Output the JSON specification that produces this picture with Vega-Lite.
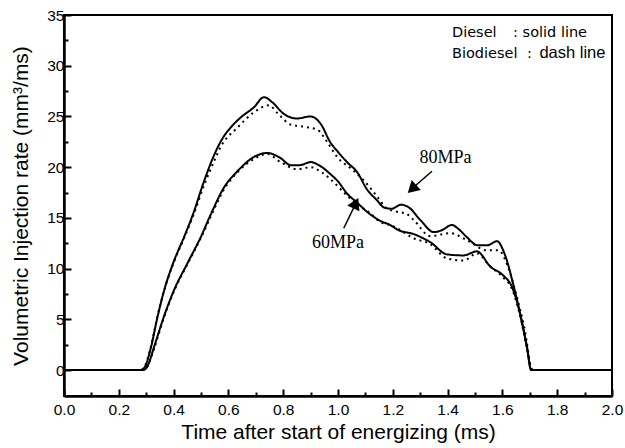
{
  "$schema": "https://vega.github.io/schema/vega-lite/v6.json",
  "width": 548,
  "height": 381,
  "autosize": {"type": "none"},
  "padding": {"left": 64, "top": 15, "right": 13, "bottom": 52},
  "background": "white",
  "config": {
    "view": {"stroke": "black", "strokeWidth": 2},
    "font": "Liberation Sans"
  },
  "datasets": {
    "curves": [
      {"fuel": "Diesel", "p": "80MPa", "t": 0, "q": 0},
      {"fuel": "Diesel", "p": "80MPa", "t": 0.28, "q": 0},
      {"fuel": "Diesel", "p": "80MPa", "t": 0.295, "q": 0.3},
      {"fuel": "Diesel", "p": "80MPa", "t": 0.317, "q": 2.2},
      {"fuel": "Diesel", "p": "80MPa", "t": 0.341, "q": 5.2},
      {"fuel": "Diesel", "p": "80MPa", "t": 0.365, "q": 7.8},
      {"fuel": "Diesel", "p": "80MPa", "t": 0.402, "q": 10.8},
      {"fuel": "Diesel", "p": "80MPa", "t": 0.438, "q": 13.1},
      {"fuel": "Diesel", "p": "80MPa", "t": 0.47, "q": 15.3},
      {"fuel": "Diesel", "p": "80MPa", "t": 0.511, "q": 18.6},
      {"fuel": "Diesel", "p": "80MPa", "t": 0.548, "q": 21.2},
      {"fuel": "Diesel", "p": "80MPa", "t": 0.58, "q": 22.9},
      {"fuel": "Diesel", "p": "80MPa", "t": 0.608, "q": 23.9},
      {"fuel": "Diesel", "p": "80MPa", "t": 0.645, "q": 24.9},
      {"fuel": "Diesel", "p": "80MPa", "t": 0.693, "q": 25.9},
      {"fuel": "Diesel", "p": "80MPa", "t": 0.73, "q": 26.9},
      {"fuel": "Diesel", "p": "80MPa", "t": 0.76, "q": 26.4},
      {"fuel": "Diesel", "p": "80MPa", "t": 0.8, "q": 25.3},
      {"fuel": "Diesel", "p": "80MPa", "t": 0.85, "q": 24.8},
      {"fuel": "Diesel", "p": "80MPa", "t": 0.9, "q": 25.0},
      {"fuel": "Diesel", "p": "80MPa", "t": 0.936, "q": 24.3},
      {"fuel": "Diesel", "p": "80MPa", "t": 0.973, "q": 22.4},
      {"fuel": "Diesel", "p": "80MPa", "t": 1.0, "q": 21.5},
      {"fuel": "Diesel", "p": "80MPa", "t": 1.033, "q": 20.5},
      {"fuel": "Diesel", "p": "80MPa", "t": 1.07, "q": 19.5},
      {"fuel": "Diesel", "p": "80MPa", "t": 1.106, "q": 17.8},
      {"fuel": "Diesel", "p": "80MPa", "t": 1.14, "q": 16.8},
      {"fuel": "Diesel", "p": "80MPa", "t": 1.17, "q": 16.0},
      {"fuel": "Diesel", "p": "80MPa", "t": 1.195, "q": 15.9},
      {"fuel": "Diesel", "p": "80MPa", "t": 1.23, "q": 16.3},
      {"fuel": "Diesel", "p": "80MPa", "t": 1.26, "q": 16.0},
      {"fuel": "Diesel", "p": "80MPa", "t": 1.3, "q": 14.8},
      {"fuel": "Diesel", "p": "80MPa", "t": 1.35, "q": 13.6},
      {"fuel": "Diesel", "p": "80MPa", "t": 1.38, "q": 13.8},
      {"fuel": "Diesel", "p": "80MPa", "t": 1.415, "q": 14.3},
      {"fuel": "Diesel", "p": "80MPa", "t": 1.44, "q": 13.9},
      {"fuel": "Diesel", "p": "80MPa", "t": 1.47, "q": 13.1},
      {"fuel": "Diesel", "p": "80MPa", "t": 1.51, "q": 12.3},
      {"fuel": "Diesel", "p": "80MPa", "t": 1.545, "q": 12.3},
      {"fuel": "Diesel", "p": "80MPa", "t": 1.58, "q": 12.7},
      {"fuel": "Diesel", "p": "80MPa", "t": 1.61, "q": 11.3},
      {"fuel": "Diesel", "p": "80MPa", "t": 1.64, "q": 8.4},
      {"fuel": "Diesel", "p": "80MPa", "t": 1.665, "q": 5.5},
      {"fuel": "Diesel", "p": "80MPa", "t": 1.69, "q": 2.2},
      {"fuel": "Diesel", "p": "80MPa", "t": 1.705, "q": 0},
      {"fuel": "Diesel", "p": "80MPa", "t": 2.0, "q": 0},

      {"fuel": "Diesel", "p": "60MPa", "t": 0, "q": 0},
      {"fuel": "Diesel", "p": "60MPa", "t": 0.29, "q": 0},
      {"fuel": "Diesel", "p": "60MPa", "t": 0.305, "q": 0.4},
      {"fuel": "Diesel", "p": "60MPa", "t": 0.329, "q": 2.3},
      {"fuel": "Diesel", "p": "60MPa", "t": 0.365, "q": 5.3},
      {"fuel": "Diesel", "p": "60MPa", "t": 0.402, "q": 7.9},
      {"fuel": "Diesel", "p": "60MPa", "t": 0.45, "q": 10.5},
      {"fuel": "Diesel", "p": "60MPa", "t": 0.499, "q": 13.1},
      {"fuel": "Diesel", "p": "60MPa", "t": 0.535, "q": 15.3},
      {"fuel": "Diesel", "p": "60MPa", "t": 0.584, "q": 18.0},
      {"fuel": "Diesel", "p": "60MPa", "t": 0.633, "q": 19.6},
      {"fuel": "Diesel", "p": "60MPa", "t": 0.693, "q": 21.0},
      {"fuel": "Diesel", "p": "60MPa", "t": 0.742, "q": 21.4},
      {"fuel": "Diesel", "p": "60MPa", "t": 0.79, "q": 20.9},
      {"fuel": "Diesel", "p": "60MPa", "t": 0.827, "q": 20.2},
      {"fuel": "Diesel", "p": "60MPa", "t": 0.86, "q": 20.2},
      {"fuel": "Diesel", "p": "60MPa", "t": 0.9, "q": 20.5},
      {"fuel": "Diesel", "p": "60MPa", "t": 0.93, "q": 20.2},
      {"fuel": "Diesel", "p": "60MPa", "t": 0.973, "q": 19.3},
      {"fuel": "Diesel", "p": "60MPa", "t": 1.0, "q": 18.6},
      {"fuel": "Diesel", "p": "60MPa", "t": 1.033, "q": 17.4},
      {"fuel": "Diesel", "p": "60MPa", "t": 1.07, "q": 16.5},
      {"fuel": "Diesel", "p": "60MPa", "t": 1.106, "q": 15.6},
      {"fuel": "Diesel", "p": "60MPa", "t": 1.155, "q": 14.7},
      {"fuel": "Diesel", "p": "60MPa", "t": 1.19, "q": 14.3},
      {"fuel": "Diesel", "p": "60MPa", "t": 1.22, "q": 13.8},
      {"fuel": "Diesel", "p": "60MPa", "t": 1.276, "q": 13.4},
      {"fuel": "Diesel", "p": "60MPa", "t": 1.337, "q": 12.6},
      {"fuel": "Diesel", "p": "60MPa", "t": 1.398, "q": 11.4},
      {"fuel": "Diesel", "p": "60MPa", "t": 1.458, "q": 11.3},
      {"fuel": "Diesel", "p": "60MPa", "t": 1.507, "q": 11.7},
      {"fuel": "Diesel", "p": "60MPa", "t": 1.556, "q": 10.2},
      {"fuel": "Diesel", "p": "60MPa", "t": 1.604, "q": 9.3},
      {"fuel": "Diesel", "p": "60MPa", "t": 1.635, "q": 8.2},
      {"fuel": "Diesel", "p": "60MPa", "t": 1.665, "q": 5.5},
      {"fuel": "Diesel", "p": "60MPa", "t": 1.69, "q": 2.2},
      {"fuel": "Diesel", "p": "60MPa", "t": 1.705, "q": 0},
      {"fuel": "Diesel", "p": "60MPa", "t": 2.0, "q": 0},

      {"fuel": "Biodiesel", "p": "80MPa", "t": 0, "q": 0},
      {"fuel": "Biodiesel", "p": "80MPa", "t": 0.28, "q": 0},
      {"fuel": "Biodiesel", "p": "80MPa", "t": 0.295, "q": 0.4},
      {"fuel": "Biodiesel", "p": "80MPa", "t": 0.317, "q": 2.3},
      {"fuel": "Biodiesel", "p": "80MPa", "t": 0.341, "q": 5.3},
      {"fuel": "Biodiesel", "p": "80MPa", "t": 0.365, "q": 7.8},
      {"fuel": "Biodiesel", "p": "80MPa", "t": 0.402, "q": 10.7},
      {"fuel": "Biodiesel", "p": "80MPa", "t": 0.438, "q": 13.0},
      {"fuel": "Biodiesel", "p": "80MPa", "t": 0.47, "q": 15.1},
      {"fuel": "Biodiesel", "p": "80MPa", "t": 0.511, "q": 18.2},
      {"fuel": "Biodiesel", "p": "80MPa", "t": 0.548, "q": 20.6},
      {"fuel": "Biodiesel", "p": "80MPa", "t": 0.572, "q": 22.0},
      {"fuel": "Biodiesel", "p": "80MPa", "t": 0.633, "q": 23.9},
      {"fuel": "Biodiesel", "p": "80MPa", "t": 0.693, "q": 25.4},
      {"fuel": "Biodiesel", "p": "80MPa", "t": 0.748, "q": 26.1},
      {"fuel": "Biodiesel", "p": "80MPa", "t": 0.78, "q": 25.3},
      {"fuel": "Biodiesel", "p": "80MPa", "t": 0.827, "q": 24.2},
      {"fuel": "Biodiesel", "p": "80MPa", "t": 0.87, "q": 24.0},
      {"fuel": "Biodiesel", "p": "80MPa", "t": 0.924, "q": 23.7},
      {"fuel": "Biodiesel", "p": "80MPa", "t": 0.96, "q": 22.5},
      {"fuel": "Biodiesel", "p": "80MPa", "t": 0.997, "q": 21.0},
      {"fuel": "Biodiesel", "p": "80MPa", "t": 1.05, "q": 19.8},
      {"fuel": "Biodiesel", "p": "80MPa", "t": 1.094, "q": 18.7},
      {"fuel": "Biodiesel", "p": "80MPa", "t": 1.14, "q": 17.2},
      {"fuel": "Biodiesel", "p": "80MPa", "t": 1.18, "q": 15.9},
      {"fuel": "Biodiesel", "p": "80MPa", "t": 1.216, "q": 15.6},
      {"fuel": "Biodiesel", "p": "80MPa", "t": 1.25, "q": 15.4},
      {"fuel": "Biodiesel", "p": "80MPa", "t": 1.276, "q": 14.8},
      {"fuel": "Biodiesel", "p": "80MPa", "t": 1.337, "q": 13.2},
      {"fuel": "Biodiesel", "p": "80MPa", "t": 1.41, "q": 13.5},
      {"fuel": "Biodiesel", "p": "80MPa", "t": 1.47, "q": 12.8},
      {"fuel": "Biodiesel", "p": "80MPa", "t": 1.543, "q": 11.8},
      {"fuel": "Biodiesel", "p": "80MPa", "t": 1.586, "q": 11.8},
      {"fuel": "Biodiesel", "p": "80MPa", "t": 1.62, "q": 10.2},
      {"fuel": "Biodiesel", "p": "80MPa", "t": 1.65, "q": 7.5},
      {"fuel": "Biodiesel", "p": "80MPa", "t": 1.68, "q": 4.2},
      {"fuel": "Biodiesel", "p": "80MPa", "t": 1.71, "q": 0},
      {"fuel": "Biodiesel", "p": "80MPa", "t": 2.0, "q": 0},

      {"fuel": "Biodiesel", "p": "60MPa", "t": 0, "q": 0},
      {"fuel": "Biodiesel", "p": "60MPa", "t": 0.29, "q": 0},
      {"fuel": "Biodiesel", "p": "60MPa", "t": 0.305, "q": 0.4},
      {"fuel": "Biodiesel", "p": "60MPa", "t": 0.33, "q": 2.2},
      {"fuel": "Biodiesel", "p": "60MPa", "t": 0.365, "q": 5.2},
      {"fuel": "Biodiesel", "p": "60MPa", "t": 0.402, "q": 7.8},
      {"fuel": "Biodiesel", "p": "60MPa", "t": 0.45, "q": 10.4},
      {"fuel": "Biodiesel", "p": "60MPa", "t": 0.499, "q": 13.0},
      {"fuel": "Biodiesel", "p": "60MPa", "t": 0.535, "q": 15.1},
      {"fuel": "Biodiesel", "p": "60MPa", "t": 0.584, "q": 17.8},
      {"fuel": "Biodiesel", "p": "60MPa", "t": 0.633, "q": 19.5},
      {"fuel": "Biodiesel", "p": "60MPa", "t": 0.693, "q": 20.8},
      {"fuel": "Biodiesel", "p": "60MPa", "t": 0.742, "q": 21.3},
      {"fuel": "Biodiesel", "p": "60MPa", "t": 0.79, "q": 20.5},
      {"fuel": "Biodiesel", "p": "60MPa", "t": 0.85, "q": 19.8},
      {"fuel": "Biodiesel", "p": "60MPa", "t": 0.9, "q": 20.0},
      {"fuel": "Biodiesel", "p": "60MPa", "t": 0.94, "q": 19.5},
      {"fuel": "Biodiesel", "p": "60MPa", "t": 0.973, "q": 18.8},
      {"fuel": "Biodiesel", "p": "60MPa", "t": 1.033, "q": 17.2},
      {"fuel": "Biodiesel", "p": "60MPa", "t": 1.07, "q": 16.3},
      {"fuel": "Biodiesel", "p": "60MPa", "t": 1.106, "q": 15.7},
      {"fuel": "Biodiesel", "p": "60MPa", "t": 1.155, "q": 14.6},
      {"fuel": "Biodiesel", "p": "60MPa", "t": 1.2, "q": 14.2},
      {"fuel": "Biodiesel", "p": "60MPa", "t": 1.276, "q": 13.0},
      {"fuel": "Biodiesel", "p": "60MPa", "t": 1.337, "q": 12.4},
      {"fuel": "Biodiesel", "p": "60MPa", "t": 1.398, "q": 11.0},
      {"fuel": "Biodiesel", "p": "60MPa", "t": 1.458, "q": 10.8},
      {"fuel": "Biodiesel", "p": "60MPa", "t": 1.507, "q": 11.5},
      {"fuel": "Biodiesel", "p": "60MPa", "t": 1.556, "q": 10.2},
      {"fuel": "Biodiesel", "p": "60MPa", "t": 1.604, "q": 9.1},
      {"fuel": "Biodiesel", "p": "60MPa", "t": 1.635, "q": 8.0},
      {"fuel": "Biodiesel", "p": "60MPa", "t": 1.665, "q": 5.3},
      {"fuel": "Biodiesel", "p": "60MPa", "t": 1.69, "q": 2.1},
      {"fuel": "Biodiesel", "p": "60MPa", "t": 1.71, "q": 0},
      {"fuel": "Biodiesel", "p": "60MPa", "t": 2.0, "q": 0}
    ],
    "arrows": [
      {"label": "80MPa", "t": 1.343, "q": 19.6, "t2": 1.262, "q2": 17.7},
      {"label": "60MPa", "t": 1.021, "q": 13.98, "t2": 1.068, "q2": 16.6}
    ],
    "heads": [
      {"label": "80MPa", "t": 1.27, "q": 17.85, "angle": 227},
      {"label": "60MPa", "t": 1.065, "q": 16.45, "angle": 25}
    ],
    "labels": [
      {"label": "80MPa", "t": 1.392, "q": 20.9},
      {"label": "60MPa", "t": 1.0, "q": 12.5}
    ],
    "notes": [
      {"text": "Diesel", "t": 1.416, "q": 32.86},
      {"text": ": solid line", "t": 1.639, "q": 32.86},
      {"text": "Biodiesel", "t": 1.416, "q": 30.73},
      {"text": ":", "t": 1.69, "q": 30.73}
    ],
    "notes2": [
      {"text": "dash line", "t": 1.735, "q": 30.73}
    ]
  },
  "encoding": {
    "x": {
      "field": "t",
      "type": "quantitative",
      "scale": {"domain": [0, 2], "nice": false, "zero": false},
      "axis": {
        "title": "Time after start of energizing (ms)",
        "values": [0, 0.1, 0.2, 0.3, 0.4, 0.5, 0.6, 0.7, 0.8, 0.9, 1.0, 1.1, 1.2, 1.3, 1.4, 1.5, 1.6, 1.7, 1.8, 1.9, 2.0],
        "format": ".1f",
        "labelExpr": "round(datum.value*10) % 2 === 0 ? datum.label : ''",
        "tickSize": {"condition": {"test": "round(datum.value*10) % 2 === 0", "value": -7}, "value": -4},
        "tickWidth": 2,
        "tickColor": "black",
        "domainColor": "black",
        "domainWidth": 2.5,
        "grid": false,
        "labelFlush": false,
        "labelFont": "Liberation Sans",
        "labelFontSize": 15.5,
        "labelColor": "black",
        "labelPadding": 13,
        "titleFont": "Liberation Sans",
        "titleFontSize": 21,
        "titleFontWeight": "normal",
        "titleColor": "black",
        "titlePadding": 4
      }
    },
    "y": {
      "field": "q",
      "type": "quantitative",
      "scale": {"domain": [-2.56, 35], "nice": false, "zero": false},
      "axis": {
        "title": "Volumetric Injection rate (mm³/ms)",
        "values": [0, 2.5, 5, 7.5, 10, 12.5, 15, 17.5, 20, 22.5, 25, 27.5, 30, 32.5, 35],
        "labelExpr": "datum.value % 5 === 0 ? datum.label : ''",
        "tickSize": {"condition": {"test": "datum.value % 5 === 0", "value": -7}, "value": -4},
        "tickWidth": 2,
        "tickColor": "black",
        "domainColor": "black",
        "domainWidth": 2.5,
        "grid": false,
        "labelFlush": false,
        "labelFont": "Liberation Sans",
        "labelFontSize": 15.5,
        "labelColor": "black",
        "labelPadding": 7,
        "titleFont": "Liberation Sans",
        "titleFontSize": 21,
        "titleFontWeight": "normal",
        "titleColor": "black",
        "titlePadding": 15
      }
    }
  },
  "layer": [
    {
      "data": {"name": "curves"},
      "mark": {"type": "line", "interpolate": "monotone", "color": "black", "strokeWidth": 2, "strokeCap": "butt"},
      "encoding": {
        "strokeDash": {
          "field": "fuel",
          "type": "nominal",
          "scale": {"domain": ["Diesel", "Biodiesel"], "range": [[1, 0], [2, 4]]},
          "legend": null
        },
        "detail": {"field": "p"}
      }
    },
    {
      "data": {"name": "arrows"},
      "mark": {"type": "rule", "color": "black", "strokeWidth": 1.5},
      "encoding": {
        "x2": {"field": "t2"},
        "y2": {"field": "q2"}
      }
    },
    {
      "data": {"name": "heads"},
      "mark": {"type": "point", "shape": "triangle-up", "filled": true, "color": "black", "opacity": 1, "size": 180},
      "encoding": {
        "angle": {"field": "angle", "type": "quantitative", "scale": null}
      }
    },
    {
      "data": {"name": "labels"},
      "mark": {"type": "text", "font": "Liberation Serif", "fontSize": 18, "color": "black", "align": "center", "baseline": "middle"},
      "encoding": {
        "text": {"field": "label"}
      }
    },
    {
      "data": {"name": "notes"},
      "mark": {"type": "text", "font": "DejaVu Sans", "fontSize": 14.5, "color": "black", "align": "left", "baseline": "alphabetic"},
      "encoding": {
        "text": {"field": "text"}
      }
    },
    {
      "data": {"name": "notes2"},
      "mark": {"type": "text", "font": "Liberation Sans", "fontSize": 16.5, "color": "black", "align": "left", "baseline": "alphabetic"},
      "encoding": {
        "text": {"field": "text"}
      }
    }
  ]
}
